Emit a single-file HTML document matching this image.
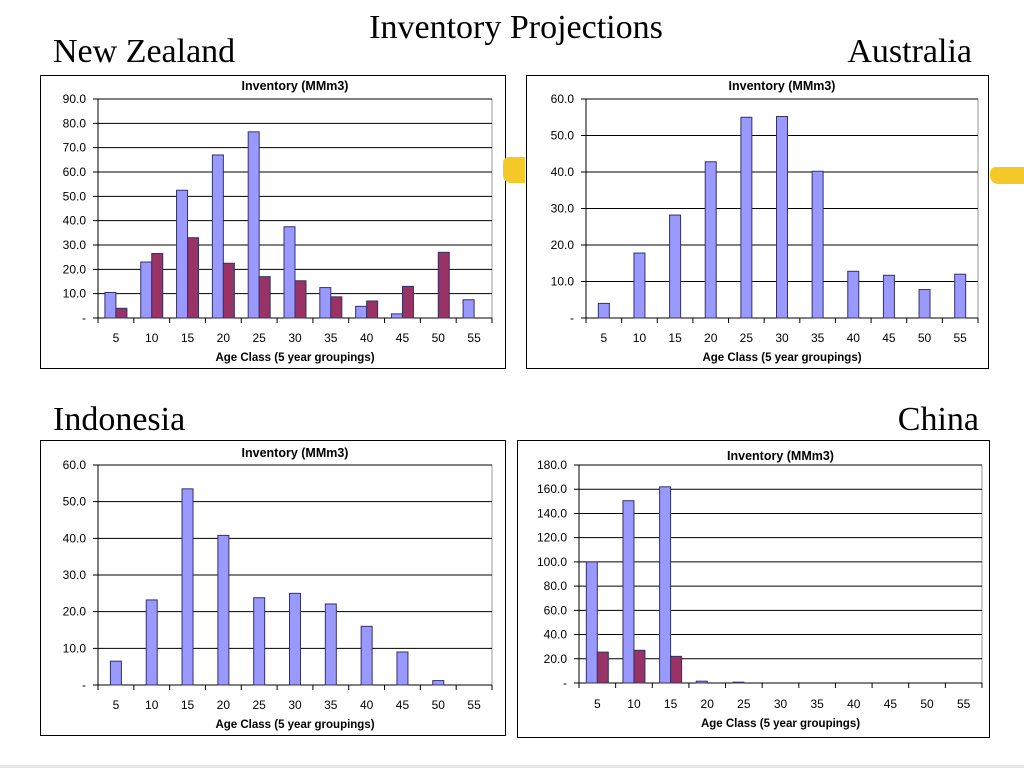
<!DOCTYPE html>
<html><head><meta charset="utf-8"><style>
body{margin:0;width:1024px;height:768px;background:#fff;position:relative;overflow:hidden;font-family:"Liberation Sans",sans-serif}
.t{position:absolute;font-family:"Liberation Serif",serif;font-size:34px;line-height:40px;color:#000;white-space:nowrap}
.box{position:absolute;border:1.5px solid #000;box-sizing:border-box}
svg{position:absolute;left:0;top:0}
</style></head><body>
<div class="t" style="left:0;width:1032px;text-align:center;top:8px">Inventory Projections</div>
<div class="t" style="left:53px;top:32px">New Zealand</div>
<div class="t" style="right:52px;top:32px">Australia</div>
<div class="t" style="left:53px;top:400px">Indonesia</div>
<div class="t" style="right:45px;top:400px">China</div>
<div class="box" style="left:40px;top:75px;width:466px;height:294px"></div>
<div class="box" style="left:526px;top:75px;width:463px;height:294px"></div>
<div class="box" style="left:40px;top:440px;width:466px;height:296px"></div>
<div class="box" style="left:517px;top:440px;width:473px;height:298px"></div>
<div style="position:absolute;left:503px;top:157px;width:22px;height:26px;background:#f5c928;border-radius:6px 0 0 8px"></div>
<div style="position:absolute;left:990px;top:167px;width:34px;height:17px;background:#f5c928;border-radius:6px 0 0 8px"></div>
<div style="position:absolute;left:0;top:765px;width:1024px;height:3px;background:#e8e8e8"></div>
<svg id="s" width="1024" height="768"></svg>
<script>
const categories=["5","10","15","20","25","30","35","40","45","50","55"];
const nzPlanted=[10.5,23,52.5,67,76.5,37.5,12.5,4.8,1.7,0,7.5];
const nzNatural=[4,26.5,33,22.5,17,15.3,8.7,7,13,27,0];
const auPlanted=[4,17.8,28.2,42.8,55,55.2,40.2,12.8,11.7,7.8,12];
const idPlanted=[6.5,23.2,53.5,40.8,23.8,25,22.1,16,9,1.2,0];
const cnPlanted=[100,150.5,162,1.5,0.7,0,0,0,0,0,0];
const cnNatural=[25.5,27,22,0,0,0,0,0,0,0,0];
const nzTicks=["-","10.0","20.0","30.0","40.0","50.0","60.0","70.0","80.0","90.0"];
const auTicks=["-","10.0","20.0","30.0","40.0","50.0","60.0"];
const cnTicks=["-","20.0","40.0","60.0","80.0","100.0","120.0","140.0","160.0","180.0"];
const NS="http://www.w3.org/2000/svg",svg=document.getElementById('s');
function mk(tag,a,name){const e=document.createElementNS(NS,tag);for(const k in a)e.setAttribute(k,a[k]);


svg.appendChild(e);return e;}
function txt(x,y,s,a,name){const e=mk('text',Object.assign({x:x,y:y},a),name);e.textContent=s;return e;}
function chart(id,L,R,T,B,ticks,max,series,titleY,labY,axY){
 const cw=(R-L)/categories.length;
 const y=v=>B-(v/max)*(B-T);
 mk('rect',{x:L,y:T,width:R-L,height:B-T,fill:'none',stroke:'#999','stroke-width':1},id+'-plot-area');
 ticks.forEach((t,i)=>{const v=i*max/(ticks.length-1),yy=y(v);
  mk('line',{x1:L-5,x2:R,y1:yy,y2:yy,stroke:'#000','stroke-width':1},id+'-gridline');
  txt(L-12,yy+4,t,{'text-anchor':'end','font-size':12},id+'-y-tick-label');});
 mk('line',{x1:L,x2:L,y1:T,y2:B,stroke:'#000'},id+'-y-axis');
 const bw=11,n=series.length;
 categories.forEach((c,i)=>{const cx=L+cw*(i+0.5);
  mk('line',{x1:L+cw*i,x2:L+cw*i,y1:B,y2:B+5,stroke:'#000'},id+'-x-tick');
  txt(cx,labY,c,{'text-anchor':'middle','font-size':12},id+'-x-tick-label');
  series.forEach((s,j)=>{const v=s.d[i];if(v<=0)return;
   const x=cx-n*bw/2+j*bw;
   mk('rect',{x:x,y:y(v),width:bw,height:B-y(v),fill:s.c,stroke:'#333366','stroke-width':1},id+'-bar-'+s.n+'-'+c);});});
 mk('line',{x1:R,x2:R,y1:B,y2:B+5,stroke:'#000'},id+'-x-tick');
 txt((L+R)/2,titleY,'Inventory (MMm3)',{'text-anchor':'middle','font-size':12.5,'font-weight':'bold'},id+'-chart-title');
 txt((L+R)/2,axY,'Age Class (5 year groupings)',{'text-anchor':'middle','font-size':11.5,'font-weight':'bold'},id+'-x-axis-title');
}
const B='#9999ff',M='#993366';
chart('nz',98,492,99,318,nzTicks,90,[{d:nzPlanted,c:B,n:'a'},{d:nzNatural,c:M,n:'b'}],90,342,361);
chart('au',586,978,99,318,auTicks,60,[{d:auPlanted,c:B,n:'a'}],90,342,361);
chart('id',98,492,465,685,auTicks,60,[{d:idPlanted,c:B,n:'a'}],457,709,728);
chart('cn',579,982,465,683,cnTicks,180,[{d:cnPlanted,c:B,n:'a'},{d:cnNatural,c:M,n:'b'}],460,708,727);
</script>
</body></html>
